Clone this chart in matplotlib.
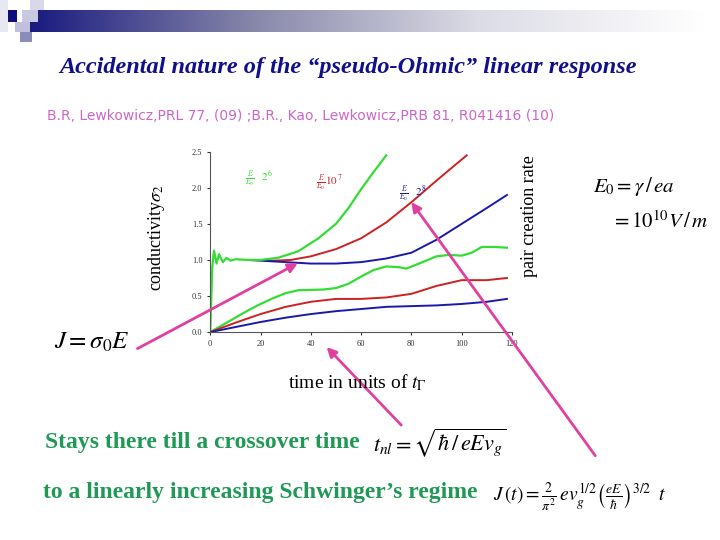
import matplotlib
matplotlib.use("Agg")
import matplotlib.pyplot as plt
import numpy as np
from matplotlib.patches import Rectangle, FancyArrowPatch
from matplotlib.colors import LinearSegmentedColormap

plt.rcParams['mathtext.fontset'] = 'stix'

spike_t = [0, 0.8, 1.5, 2.5, 3.5, 5, 6.5, 8, 10, 15]
spike_v = [0, 0.9, 1.13, 0.95, 1.08, 0.97, 1.03, 0.99, 1.01, 1.0]

g_up_t = spike_t + [20, 27, 35, 43, 50, 55, 60, 65, 70]
g_up_v = spike_v + [1.0, 1.03, 1.12, 1.3, 1.5, 1.72, 1.98, 2.22, 2.45]
r_up_t = [15, 20, 25, 32, 40, 50, 60, 70, 80, 90, 102]
r_up_v = [1.0, 1.0, 0.99, 1.0, 1.05, 1.15, 1.3, 1.52, 1.8, 2.1, 2.45]
b_up_t = [15, 20, 30, 40, 50, 60, 70, 80, 90, 100, 110, 118]
b_up_v = [1.0, 0.99, 0.97, 0.95, 0.95, 0.97, 1.02, 1.1, 1.28, 1.5, 1.72, 1.9]

g_lo_t = [0, 5, 10, 15, 20, 25, 30, 35, 45, 50, 55, 60, 65, 70, 75, 78, 83, 90, 95, 100, 104, 108, 113, 118]
g_lo_v = [0, 0.1, 0.2, 0.3, 0.39, 0.47, 0.54, 0.58, 0.59, 0.61, 0.67, 0.77, 0.86, 0.91, 0.9, 0.88, 0.95, 1.05, 1.07, 1.06, 1.1, 1.18, 1.18, 1.17]
r_lo_t = [0, 10, 20, 30, 40, 50, 60, 70, 80, 90, 100, 110, 118]
r_lo_v = [0, 0.13, 0.25, 0.35, 0.42, 0.46, 0.46, 0.48, 0.53, 0.64, 0.72, 0.72, 0.75]
b_lo_t = [0, 10, 20, 30, 40, 50, 60, 70, 80, 90, 100, 110, 118]
b_lo_v = [0, 0.07, 0.14, 0.2, 0.25, 0.29, 0.32, 0.35, 0.36, 0.37, 0.39, 0.42, 0.46]

xticks = [0, 20, 40, 60, 80, 100, 120]
yticks = [0.0, 0.5, 1.0, 1.5, 2.0, 2.5]

GREEN, RED, BLUE, PINK = "#33dd33", "#cc2222", "#1a1aaa", "#e040a0"
TEXTGREEN = "#1f9955"

fig = plt.figure(figsize=(7.2, 5.4), dpi=100)
fig.patch.set_facecolor("white")

bar = fig.add_axes([30/720, 1-32/540, 675/720, 22/540])
grad = np.linspace(0, 1, 256)[None, :]
cm = LinearSegmentedColormap.from_list("g", ["#1a1a80", "#8888aa", "#dcdce6", "#ffffff"])
bar.imshow(grad, aspect="auto", cmap=cm)
bar.axis("off")
for (x, y, w, h, c) in [(8, 10, 9, 12, "#10107a"), (22, 10, 16, 12, "#c8c8e0"),
                        (30, 0, 14, 10, "#d8d8ea"), (15, 22, 15, 10, "#c0c0dc"),
                        (20, 32, 12, 10, "#8c8cbc"), (0, 0, 8, 32, "#e8e8f2")]:
    fig.add_artist(Rectangle((x/720, 1-(y+h)/540), w/720, h/540, transform=fig.transFigure,
                             facecolor=c, edgecolor="none"))

fig.text(0.484, 0.865, "Accidental nature of the \u201cpseudo-Ohmic\u201d linear response",
         ha="center", fontsize=17.5, style="italic", weight="bold", family="Liberation Serif", color="#10108a")
fig.text(0.065, 0.778, "B.R, Lewkowicz,PRL 77, (09) ;B.R., Kao, Lewkowicz,PRB 81, R041416 (10)",
         fontsize=10, color="#cc66cc")

ax = fig.add_axes([0.292, 0.385, 0.419, 0.334])
ax.plot(r_up_t, r_up_v, color=RED, lw=1.4)
ax.plot(b_up_t, b_up_v, color=BLUE, lw=1.4)
ax.plot(g_up_t, g_up_v, color=GREEN, lw=1.6)
ax.plot(g_lo_t, g_lo_v, color=GREEN, lw=1.6)
ax.plot(r_lo_t, r_lo_v, color=RED, lw=1.4)
ax.plot(b_lo_t, b_lo_v, color=BLUE, lw=1.4)
ax.set_xlim(0, 120)
ax.set_ylim(0, 2.5)
ax.set_xticks(xticks)
ax.set_yticks(yticks)
ax.set_yticklabels([f"{v:.1f}" for v in yticks])
for s in ["top", "right"]:
    ax.spines[s].set_visible(False)
ax.spines["left"].set_color("#555555")
ax.spines["bottom"].set_color("#555555")
ax.tick_params(labelsize=6, length=2, colors="#333333")
for lab in ax.get_xticklabels() + ax.get_yticklabels():
    lab.set_family("Liberation Serif")
ax.text(14, 2.1, r"$\frac{E}{E_0}$  $2^{\,6}$", color=GREEN, fontsize=8)
ax.text(42, 2.05, r"$\frac{E}{E_0}$$10^{\,7}$", color=RED, fontsize=8)
ax.text(75, 1.9, r"$\frac{E}{E_0}$  $2^{\,8}$", color=BLUE, fontsize=8)

fig.text(0.218, 0.56, r"conductivity$\sigma_2$", rotation=90, ha="center", va="center",
         fontsize=13, family="Liberation Serif")
fig.text(0.735, 0.6, "pair creation rate", rotation=90, ha="center", va="center",
         fontsize=13, family="Liberation Serif")
fig.text(0.4, 0.28, r"time in units of $t_\Gamma$", fontsize=14, family="Liberation Serif")

fig.text(0.075, 0.355, r"$J=\sigma_0 E$", fontsize=18)
fig.text(0.823, 0.645, r"$E_0=\gamma\,/\,ea$", fontsize=15)
fig.text(0.848, 0.578, r"$=10^{10}V\,/\,m$", fontsize=15)
fig.text(0.063, 0.17, "Stays there till a crossover time", fontsize=17, weight="bold",
         family="Liberation Serif", color=TEXTGREEN)
fig.text(0.518, 0.165, r"$t_{nl}=\sqrt{\hbar\,/\,eEv_g}$", fontsize=16)
fig.text(0.06, 0.078, "to a linearly increasing Schwinger\u2019s regime", fontsize=17, weight="bold",
         family="Liberation Serif", color=TEXTGREEN)
fig.text(0.685, 0.07, r"$J\,(t)=\frac{2}{\pi^2}\,ev_g^{1/2}\left(\frac{eE}{\hbar}\right)^{3/2}\;\; t$", fontsize=14)

arrows = [((0.1875, 0.352), (0.417, 0.515)),
          ((0.56, 0.209), (0.451, 0.361)),
          ((0.829, 0.152), (0.569, 0.63))]
for (st, en) in arrows:
    fig.add_artist(FancyArrowPatch(st, en, transform=fig.transFigure,
                   arrowstyle="-|>", mutation_scale=14, color=PINK, lw=2))

fig.savefig("out.png", dpi=100)
